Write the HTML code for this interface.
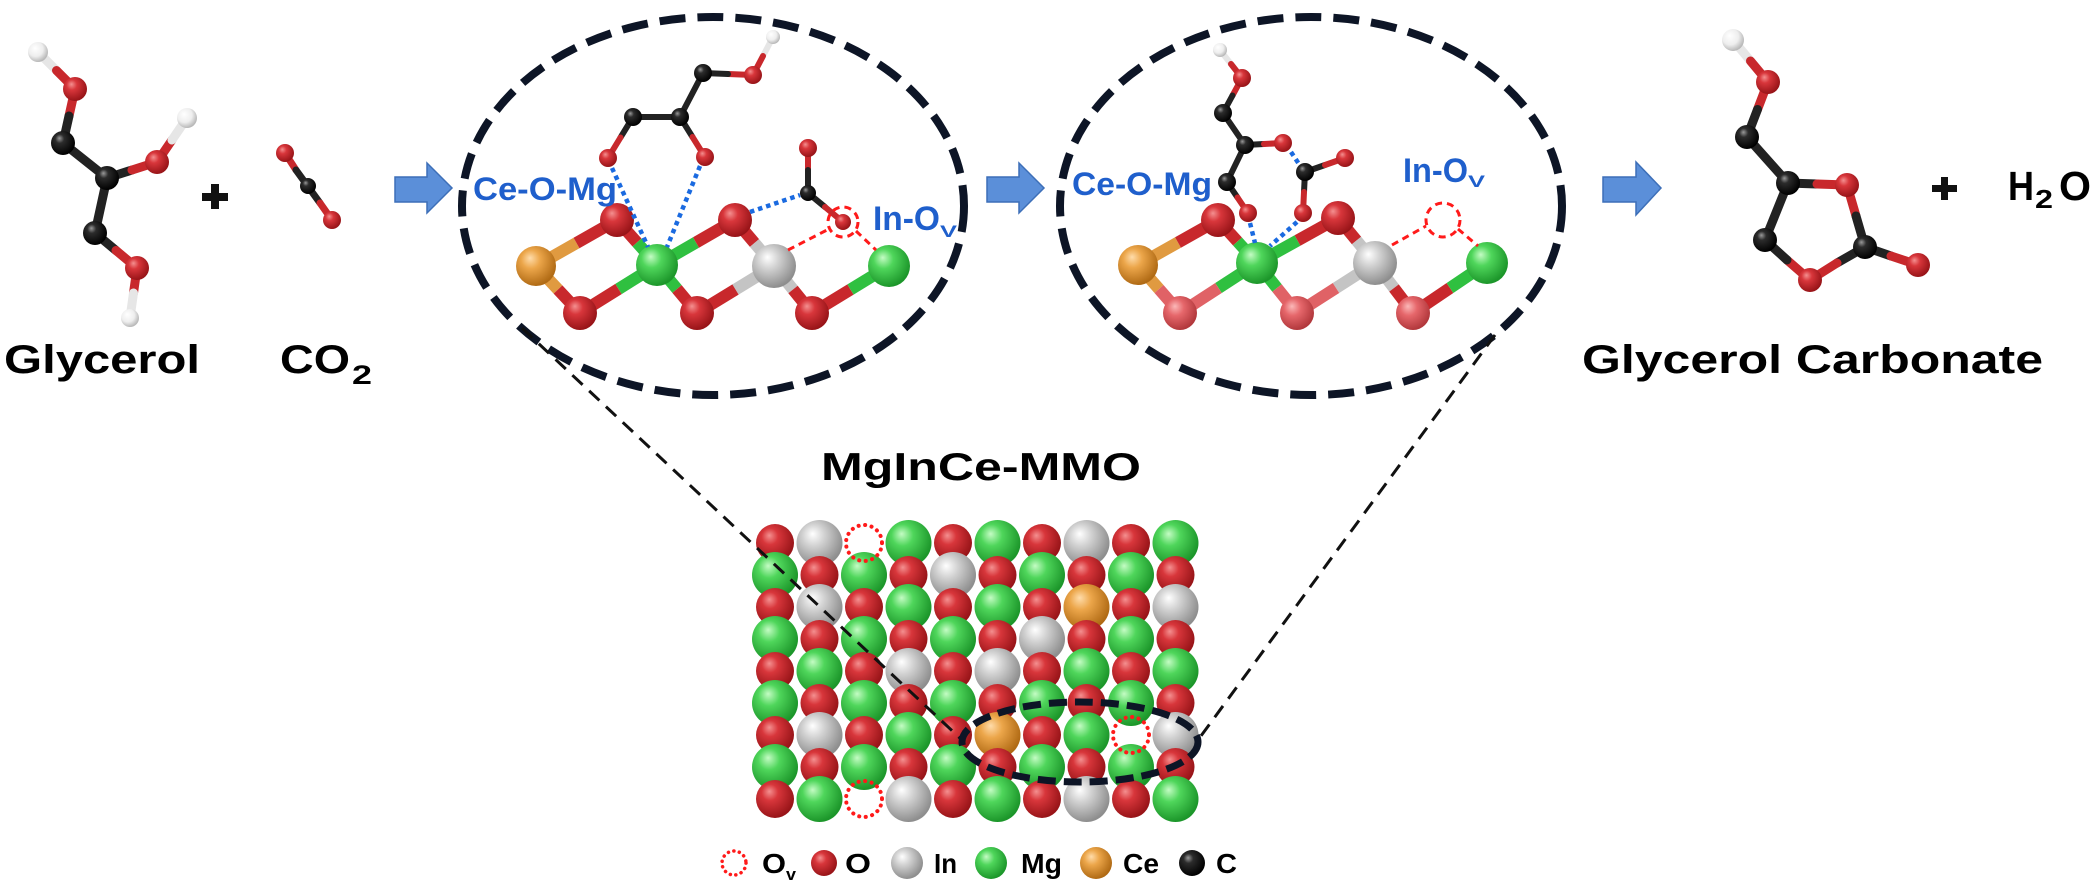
<!DOCTYPE html>
<html>
<head>
<meta charset="utf-8">
<style>
html,body{margin:0;padding:0;background:#fff;}
svg{display:block;}
text{font-family:"Liberation Sans",Arial,sans-serif;font-weight:bold;}
</style>
</head>
<body>
<svg width="2093" height="886" viewBox="0 0 2093 886" xmlns="http://www.w3.org/2000/svg">
<defs>
<radialGradient id="gO" cx="0.4" cy="0.38" r="0.62" fx="0.35" fy="0.3">
<stop offset="0" stop-color="#f49090"/><stop offset="0.35" stop-color="#d8363b"/><stop offset="1" stop-color="#981418"/></radialGradient>
<radialGradient id="gP" cx="0.4" cy="0.38" r="0.62" fx="0.35" fy="0.3">
<stop offset="0" stop-color="#fbb8b8"/><stop offset="0.4" stop-color="#e6676b"/><stop offset="1" stop-color="#b2383c"/></radialGradient>
<radialGradient id="gG" cx="0.4" cy="0.38" r="0.62" fx="0.35" fy="0.3">
<stop offset="0" stop-color="#c4fcc4"/><stop offset="0.38" stop-color="#4fd65b"/><stop offset="1" stop-color="#1c962a"/></radialGradient>
<radialGradient id="gS" cx="0.4" cy="0.38" r="0.62" fx="0.35" fy="0.3">
<stop offset="0" stop-color="#ffffff"/><stop offset="0.38" stop-color="#d2d2d2"/><stop offset="1" stop-color="#8e8e8e"/></radialGradient>
<radialGradient id="gY" cx="0.4" cy="0.38" r="0.62" fx="0.35" fy="0.3">
<stop offset="0" stop-color="#ffdcaa"/><stop offset="0.38" stop-color="#eca64a"/><stop offset="1" stop-color="#b06a14"/></radialGradient>
<radialGradient id="gC" cx="0.4" cy="0.38" r="0.62" fx="0.35" fy="0.3">
<stop offset="0" stop-color="#9a9a9a"/><stop offset="0.3" stop-color="#2c2c2c"/><stop offset="1" stop-color="#000"/></radialGradient>
<radialGradient id="gH" cx="0.4" cy="0.38" r="0.62" fx="0.35" fy="0.3">
<stop offset="0" stop-color="#ffffff"/><stop offset="0.6" stop-color="#eeeeee"/><stop offset="1" stop-color="#b8b8b8"/></radialGradient>
</defs>

<!-- ================= LEFT: Glycerol ================= -->
<g stroke-linecap="round" stroke-width="9">
<line x1="38" y1="52" x2="56.5" y2="70.5" stroke="#e6e6e6"/>
<line x1="56.5" y1="70.5" x2="75" y2="89" stroke="#c8282c"/>
<line x1="75" y1="89" x2="69" y2="116" stroke="#c8282c"/>
<line x1="69" y1="116" x2="63" y2="143" stroke="#222"/>
<line x1="63" y1="143" x2="107" y2="178" stroke="#222"/>
<line x1="107" y1="178" x2="132" y2="170" stroke="#222"/>
<line x1="132" y1="170" x2="157" y2="162" stroke="#c8282c"/>
<line x1="157" y1="162" x2="172" y2="140" stroke="#c8282c"/>
<line x1="172" y1="140" x2="187" y2="118" stroke="#e6e6e6"/>
<line x1="107" y1="178" x2="95" y2="233" stroke="#222"/>
<line x1="95" y1="233" x2="116" y2="250.5" stroke="#222"/>
<line x1="116" y1="250.5" x2="137" y2="268" stroke="#c8282c"/>
<line x1="137" y1="268" x2="133.5" y2="293" stroke="#c8282c"/>
<line x1="133.5" y1="293" x2="130" y2="318" stroke="#e6e6e6"/>
</g>
<circle cx="38" cy="52" r="10" fill="url(#gH)"/>
<circle cx="187" cy="118" r="10" fill="url(#gH)"/>
<circle cx="130" cy="318" r="9" fill="url(#gH)"/>
<circle cx="75" cy="89" r="12" fill="url(#gO)"/>
<circle cx="157" cy="162" r="12" fill="url(#gO)"/>
<circle cx="137" cy="268" r="12" fill="url(#gO)"/>
<circle cx="63" cy="143" r="12" fill="url(#gC)"/>
<circle cx="107" cy="178" r="12" fill="url(#gC)"/>
<circle cx="95" cy="233" r="12" fill="url(#gC)"/>

<!-- plus -->
<rect x="202" y="193" width="26" height="8" fill="#111"/>
<rect x="211" y="184" width="8" height="25" fill="#111"/>

<!-- CO2 -->
<g stroke-linecap="round" stroke-width="7">
<line x1="285" y1="153" x2="296" y2="170" stroke="#c8282c"/>
<line x1="296" y1="170" x2="320" y2="203" stroke="#222"/>
<line x1="320" y1="203" x2="332" y2="220" stroke="#c8282c"/>
</g>
<circle cx="285" cy="153" r="9" fill="url(#gO)"/>
<circle cx="308" cy="186" r="8" fill="url(#gC)"/>
<circle cx="332" cy="220" r="9" fill="url(#gO)"/>

<text x="4" y="373" font-size="40" textLength="196" lengthAdjust="spacingAndGlyphs" fill="#000">Glycerol</text>
<text x="280" y="373" font-size="40" textLength="70" lengthAdjust="spacingAndGlyphs" fill="#000">CO</text>
<text x="352" y="384" font-size="27" textLength="20" lengthAdjust="spacingAndGlyphs" fill="#000">2</text>

<!-- arrows -->
<g fill="#5b8fd9" stroke="#3d6fb8" stroke-width="1.5">
<polygon points="395,177 427,177 427,163 452,188 427,213 427,202 395,202"/>
<polygon points="987,177 1019,177 1019,163 1044,188 1019,213 1019,202 987,202"/>
<polygon points="1603,177 1636,177 1636,162 1661,188 1636,215 1636,202 1603,202"/>
</g>

<!-- ================= ELLIPSE 1 ================= -->
<g stroke-width="12" stroke-linecap="butt">
<line x1="536" y1="266" x2="576.5" y2="243" stroke="#e09a40"/>
<line x1="576.5" y1="243" x2="617" y2="220" stroke="#c8282c"/>
<line x1="536" y1="266" x2="558" y2="289.5" stroke="#e09a40"/>
<line x1="558" y1="289.5" x2="580" y2="313" stroke="#c8282c"/>
<line x1="617" y1="220" x2="637" y2="242.5" stroke="#c8282c"/>
<line x1="637" y1="242.5" x2="657" y2="265" stroke="#2fc040"/>
<line x1="657" y1="265" x2="618.5" y2="289" stroke="#2fc040"/>
<line x1="618.5" y1="289" x2="580" y2="313" stroke="#c8282c"/>
<line x1="657" y1="265" x2="696" y2="242.5" stroke="#2fc040"/>
<line x1="696" y1="242.5" x2="735" y2="220" stroke="#c8282c"/>
<line x1="657" y1="265" x2="677" y2="289" stroke="#2fc040"/>
<line x1="677" y1="289" x2="697" y2="313" stroke="#c8282c"/>
<line x1="735" y1="220" x2="754.5" y2="243" stroke="#c8282c"/>
<line x1="754.5" y1="243" x2="774" y2="266" stroke="#c4c4c4"/>
<line x1="774" y1="266" x2="735.5" y2="289.5" stroke="#c4c4c4"/>
<line x1="735.5" y1="289.5" x2="697" y2="313" stroke="#c8282c"/>
<line x1="774" y1="266" x2="793" y2="289.5" stroke="#c4c4c4"/>
<line x1="793" y1="289.5" x2="812" y2="313" stroke="#c8282c"/>
<line x1="812" y1="313" x2="850.5" y2="289.5" stroke="#c8282c"/>
<line x1="850.5" y1="289.5" x2="889" y2="266" stroke="#2fc040"/>
</g>
<circle cx="580" cy="313" r="17" fill="url(#gO)"/>
<circle cx="697" cy="313" r="17" fill="url(#gO)"/>
<circle cx="812" cy="313" r="17" fill="url(#gO)"/>
<circle cx="536" cy="266" r="20" fill="url(#gY)"/>
<circle cx="657" cy="265" r="21" fill="url(#gG)"/>
<circle cx="774" cy="266" r="22" fill="url(#gS)"/>
<circle cx="889" cy="266" r="21" fill="url(#gG)"/>
<circle cx="617" cy="220" r="17" fill="url(#gO)"/>
<circle cx="735" cy="220" r="17" fill="url(#gO)"/>

<g stroke-linecap="round" stroke-width="6">
<line x1="773" y1="37" x2="763" y2="56" stroke="#e6e6e6"/>
<line x1="763" y1="56" x2="753" y2="75" stroke="#c8282c"/>
<line x1="753" y1="75" x2="728" y2="74" stroke="#c8282c"/>
<line x1="728" y1="74" x2="703" y2="73" stroke="#222"/>
<line x1="703" y1="73" x2="680" y2="117" stroke="#222"/>
<line x1="680" y1="117" x2="633" y2="117" stroke="#222"/>
<line x1="633" y1="117" x2="620.5" y2="137.5" stroke="#222"/>
<line x1="620.5" y1="137.5" x2="608" y2="158" stroke="#c8282c"/>
<line x1="680" y1="117" x2="692.5" y2="137" stroke="#222"/>
<line x1="692.5" y1="137" x2="705" y2="157" stroke="#c8282c"/>
<line x1="808" y1="148" x2="808" y2="170" stroke="#c8282c"/>
<line x1="808" y1="170" x2="808" y2="193" stroke="#222"/>
<line x1="808" y1="193" x2="825" y2="207" stroke="#222"/>
<line x1="825" y1="207" x2="843" y2="222" stroke="#c8282c"/>
</g>
<circle cx="773" cy="37" r="7" fill="url(#gH)"/>
<circle cx="753" cy="75" r="9" fill="url(#gO)"/>
<circle cx="703" cy="73" r="9" fill="url(#gC)"/>
<circle cx="680" cy="117" r="9" fill="url(#gC)"/>
<circle cx="633" cy="117" r="9" fill="url(#gC)"/>
<circle cx="608" cy="158" r="9" fill="url(#gO)"/>
<circle cx="705" cy="157" r="9" fill="url(#gO)"/>
<circle cx="808" cy="148" r="9" fill="url(#gO)"/>
<circle cx="808" cy="193" r="8" fill="url(#gC)"/>
<circle cx="843" cy="222" r="8" fill="url(#gO)"/>

<g stroke="#1a6ae0" stroke-width="4.5" stroke-dasharray="4.5 4" fill="none">
<line x1="612" y1="168" x2="648" y2="247"/>
<line x1="700" y1="166" x2="667" y2="247"/>
<line x1="750" y1="212" x2="800" y2="195"/>
</g>
<g stroke="#ff1a1a" stroke-width="3" stroke-dasharray="7 5" fill="none">
<circle cx="843" cy="222" r="15"/>
<line x1="788" y1="250" x2="829" y2="229"/>
<line x1="856" y1="231" x2="876" y2="250"/>
</g>
<text x="473" y="200" font-size="32" textLength="144" lengthAdjust="spacingAndGlyphs" fill="#1f5fcc">Ce-O-Mg</text>
<text x="873" y="230" font-size="34" textLength="67" lengthAdjust="spacingAndGlyphs" fill="#1f5fcc">In-O</text>
<text x="940" y="237" font-size="17" textLength="17" lengthAdjust="spacingAndGlyphs" fill="#1f5fcc">V</text>

<!-- ================= ELLIPSE 2 ================= -->
<g stroke-width="12" stroke-linecap="butt">
<line x1="1138" y1="265" x2="1178" y2="242.5" stroke="#e09a40"/>
<line x1="1178" y1="242.5" x2="1218" y2="220" stroke="#c8282c"/>
<line x1="1138" y1="265" x2="1159" y2="289" stroke="#e09a40"/>
<line x1="1159" y1="289" x2="1180" y2="313" stroke="#e06266"/>
<line x1="1218" y1="220" x2="1237.5" y2="241.5" stroke="#c8282c"/>
<line x1="1237.5" y1="241.5" x2="1257" y2="263" stroke="#2fc040"/>
<line x1="1257" y1="263" x2="1218.5" y2="288" stroke="#2fc040"/>
<line x1="1218.5" y1="288" x2="1180" y2="313" stroke="#e06266"/>
<line x1="1257" y1="263" x2="1297.5" y2="240.5" stroke="#2fc040"/>
<line x1="1297.5" y1="240.5" x2="1338" y2="218" stroke="#c8282c"/>
<line x1="1257" y1="263" x2="1277" y2="288" stroke="#2fc040"/>
<line x1="1277" y1="288" x2="1297" y2="313" stroke="#e06266"/>
<line x1="1338" y1="218" x2="1356.5" y2="240.5" stroke="#c8282c"/>
<line x1="1356.5" y1="240.5" x2="1375" y2="263" stroke="#c4c4c4"/>
<line x1="1375" y1="263" x2="1336" y2="288" stroke="#c4c4c4"/>
<line x1="1336" y1="288" x2="1297" y2="313" stroke="#e06266"/>
<line x1="1375" y1="263" x2="1394" y2="288" stroke="#c4c4c4"/>
<line x1="1394" y1="288" x2="1413" y2="313" stroke="#c8282c"/>
<line x1="1413" y1="313" x2="1450" y2="288" stroke="#c8282c"/>
<line x1="1450" y1="288" x2="1487" y2="263" stroke="#2fc040"/>
</g>
<circle cx="1180" cy="313" r="17" fill="url(#gP)"/>
<circle cx="1297" cy="313" r="17" fill="url(#gP)"/>
<circle cx="1413" cy="313" r="17" fill="url(#gP)"/>
<circle cx="1138" cy="265" r="20" fill="url(#gY)"/>
<circle cx="1257" cy="263" r="21" fill="url(#gG)"/>
<circle cx="1375" cy="263" r="22" fill="url(#gS)"/>
<circle cx="1487" cy="263" r="21" fill="url(#gG)"/>
<circle cx="1218" cy="220" r="17" fill="url(#gO)"/>
<circle cx="1338" cy="218" r="17" fill="url(#gO)"/>

<g stroke-linecap="round" stroke-width="6">
<line x1="1220" y1="50" x2="1231" y2="64" stroke="#e6e6e6"/>
<line x1="1231" y1="64" x2="1242" y2="78" stroke="#c8282c"/>
<line x1="1242" y1="78" x2="1232.5" y2="95.5" stroke="#c8282c"/>
<line x1="1232.5" y1="95.5" x2="1223" y2="113" stroke="#222"/>
<line x1="1223" y1="113" x2="1245" y2="145" stroke="#222"/>
<line x1="1245" y1="145" x2="1264" y2="144" stroke="#222"/>
<line x1="1264" y1="144" x2="1283" y2="143" stroke="#c8282c"/>
<line x1="1245" y1="145" x2="1227" y2="182" stroke="#222"/>
<line x1="1227" y1="182" x2="1237.5" y2="197.5" stroke="#222"/>
<line x1="1237.5" y1="197.5" x2="1248" y2="213" stroke="#c8282c"/>
<line x1="1305" y1="172" x2="1325" y2="165" stroke="#222"/>
<line x1="1325" y1="165" x2="1345" y2="158" stroke="#c8282c"/>
<line x1="1305" y1="172" x2="1304" y2="192" stroke="#222"/>
<line x1="1304" y1="192" x2="1303" y2="213" stroke="#c8282c"/>
</g>
<circle cx="1220" cy="50" r="7" fill="url(#gH)"/>
<circle cx="1242" cy="78" r="9" fill="url(#gO)"/>
<circle cx="1223" cy="113" r="9" fill="url(#gC)"/>
<circle cx="1245" cy="145" r="9" fill="url(#gC)"/>
<circle cx="1283" cy="143" r="9" fill="url(#gO)"/>
<circle cx="1227" cy="182" r="9" fill="url(#gC)"/>
<circle cx="1248" cy="213" r="9" fill="url(#gO)"/>
<circle cx="1305" cy="172" r="9" fill="url(#gC)"/>
<circle cx="1345" cy="158" r="9" fill="url(#gO)"/>
<circle cx="1303" cy="213" r="9" fill="url(#gO)"/>

<g stroke="#1a6ae0" stroke-width="4.5" stroke-dasharray="4.5 4" fill="none">
<line x1="1291" y1="152" x2="1299" y2="164"/>
<line x1="1250" y1="223" x2="1255" y2="243"/>
<line x1="1297" y1="222" x2="1270" y2="246"/>
</g>
<g stroke="#ff1a1a" stroke-width="3" stroke-dasharray="7 5" fill="none">
<circle cx="1443" cy="220" r="17"/>
<line x1="1392" y1="245" x2="1426" y2="226"/>
<line x1="1458" y1="229" x2="1478" y2="246"/>
</g>
<text x="1072" y="195" font-size="32" textLength="140" lengthAdjust="spacingAndGlyphs" fill="#1f5fcc">Ce-O-Mg</text>
<text x="1403" y="182" font-size="34" textLength="65" lengthAdjust="spacingAndGlyphs" fill="#1f5fcc">In-O</text>
<text x="1468" y="187" font-size="17" textLength="17" lengthAdjust="spacingAndGlyphs" fill="#1f5fcc">V</text>

<!-- big dashed ellipses -->
<g fill="none" stroke="#0d1526" stroke-width="8" stroke-dasharray="26 12">
<ellipse cx="713" cy="206" rx="251" ry="189"/>
<ellipse cx="1311" cy="206" rx="251" ry="189"/>
</g>

<!-- ================= RIGHT: Glycerol carbonate ================= -->
<g stroke-linecap="round" stroke-width="9">
<line x1="1733" y1="40" x2="1750.5" y2="61" stroke="#e6e6e6"/>
<line x1="1750.5" y1="61" x2="1768" y2="82" stroke="#c8282c"/>
<line x1="1768" y1="82" x2="1757.5" y2="109.5" stroke="#c8282c"/>
<line x1="1757.5" y1="109.5" x2="1747" y2="137" stroke="#222"/>
<line x1="1747" y1="137" x2="1788" y2="183" stroke="#222"/>
<line x1="1788" y1="183" x2="1817" y2="184" stroke="#222"/>
<line x1="1817" y1="184" x2="1847" y2="185" stroke="#c8282c"/>
<line x1="1847" y1="185" x2="1856" y2="216" stroke="#c8282c"/>
<line x1="1856" y1="216" x2="1865" y2="247" stroke="#222"/>
<line x1="1865" y1="247" x2="1891" y2="256" stroke="#222"/>
<line x1="1891" y1="256" x2="1918" y2="265" stroke="#c8282c"/>
<line x1="1865" y1="247" x2="1837" y2="263" stroke="#222"/>
<line x1="1837" y1="263" x2="1810" y2="280" stroke="#c8282c"/>
<line x1="1810" y1="280" x2="1787" y2="260" stroke="#c8282c"/>
<line x1="1787" y1="260" x2="1765" y2="240" stroke="#222"/>
<line x1="1765" y1="240" x2="1788" y2="183" stroke="#222"/>
</g>
<circle cx="1733" cy="40" r="11" fill="url(#gH)"/>
<circle cx="1768" cy="82" r="12" fill="url(#gO)"/>
<circle cx="1747" cy="137" r="12" fill="url(#gC)"/>
<circle cx="1788" cy="183" r="12" fill="url(#gC)"/>
<circle cx="1847" cy="185" r="12" fill="url(#gO)"/>
<circle cx="1865" cy="247" r="12" fill="url(#gC)"/>
<circle cx="1918" cy="265" r="12" fill="url(#gO)"/>
<circle cx="1810" cy="280" r="12" fill="url(#gO)"/>
<circle cx="1765" cy="240" r="12" fill="url(#gC)"/>

<rect x="1932" y="185" width="25" height="7" fill="#111"/>
<rect x="1941" y="177" width="7" height="23" fill="#111"/>
<text x="2008" y="200" font-size="41" textLength="26" lengthAdjust="spacingAndGlyphs" fill="#000">H</text>
<text x="2035" y="208" font-size="26" textLength="18" lengthAdjust="spacingAndGlyphs" fill="#000">2</text>
<text x="2059" y="200" font-size="41" textLength="32" lengthAdjust="spacingAndGlyphs" fill="#000">O</text>
<text x="1582" y="373" font-size="40" textLength="461" lengthAdjust="spacingAndGlyphs" fill="#000">Glycerol Carbonate</text>

<!-- ================= MgInCe-MMO ================= -->
<text x="821" y="480" font-size="39" textLength="320" lengthAdjust="spacingAndGlyphs" fill="#000">MgInCe-MMO</text>

<!-- lattice -->
<g>
<circle cx="775" cy="543" r="19" fill="url(#gO)"/>
<circle cx="819.5" cy="543" r="23" fill="url(#gS)"/>
<circle cx="908.5" cy="543" r="23" fill="url(#gG)"/>
<circle cx="953" cy="543" r="19" fill="url(#gO)"/>
<circle cx="997.5" cy="543" r="23" fill="url(#gG)"/>
<circle cx="1042" cy="543" r="19" fill="url(#gO)"/>
<circle cx="1086.5" cy="543" r="23" fill="url(#gS)"/>
<circle cx="1131" cy="543" r="19" fill="url(#gO)"/>
<circle cx="1175.5" cy="543" r="23" fill="url(#gG)"/>

<circle cx="775" cy="575" r="23" fill="url(#gG)"/>
<circle cx="819.5" cy="575" r="19" fill="url(#gO)"/>
<circle cx="864" cy="575" r="23" fill="url(#gG)"/>
<circle cx="908.5" cy="575" r="19" fill="url(#gO)"/>
<circle cx="953" cy="575" r="23" fill="url(#gS)"/>
<circle cx="997.5" cy="575" r="19" fill="url(#gO)"/>
<circle cx="1042" cy="575" r="23" fill="url(#gG)"/>
<circle cx="1086.5" cy="575" r="19" fill="url(#gO)"/>
<circle cx="1131" cy="575" r="23" fill="url(#gG)"/>
<circle cx="1175.5" cy="575" r="19" fill="url(#gO)"/>

<circle cx="775" cy="607" r="19" fill="url(#gO)"/>
<circle cx="819.5" cy="607" r="23" fill="url(#gS)"/>
<circle cx="864" cy="607" r="19" fill="url(#gO)"/>
<circle cx="908.5" cy="607" r="23" fill="url(#gG)"/>
<circle cx="953" cy="607" r="19" fill="url(#gO)"/>
<circle cx="997.5" cy="607" r="23" fill="url(#gG)"/>
<circle cx="1042" cy="607" r="19" fill="url(#gO)"/>
<circle cx="1086.5" cy="607" r="23" fill="url(#gY)"/>
<circle cx="1131" cy="607" r="19" fill="url(#gO)"/>
<circle cx="1175.5" cy="607" r="23" fill="url(#gS)"/>

<circle cx="775" cy="639" r="23" fill="url(#gG)"/>
<circle cx="819.5" cy="639" r="19" fill="url(#gO)"/>
<circle cx="864" cy="639" r="23" fill="url(#gG)"/>
<circle cx="908.5" cy="639" r="19" fill="url(#gO)"/>
<circle cx="953" cy="639" r="23" fill="url(#gG)"/>
<circle cx="997.5" cy="639" r="19" fill="url(#gO)"/>
<circle cx="1042" cy="639" r="23" fill="url(#gS)"/>
<circle cx="1086.5" cy="639" r="19" fill="url(#gO)"/>
<circle cx="1131" cy="639" r="23" fill="url(#gG)"/>
<circle cx="1175.5" cy="639" r="19" fill="url(#gO)"/>

<circle cx="775" cy="671" r="19" fill="url(#gO)"/>
<circle cx="819.5" cy="671" r="23" fill="url(#gG)"/>
<circle cx="864" cy="671" r="19" fill="url(#gO)"/>
<circle cx="908.5" cy="671" r="23" fill="url(#gS)"/>
<circle cx="953" cy="671" r="19" fill="url(#gO)"/>
<circle cx="997.5" cy="671" r="23" fill="url(#gS)"/>
<circle cx="1042" cy="671" r="19" fill="url(#gO)"/>
<circle cx="1086.5" cy="671" r="23" fill="url(#gG)"/>
<circle cx="1131" cy="671" r="19" fill="url(#gO)"/>
<circle cx="1175.5" cy="671" r="23" fill="url(#gG)"/>

<circle cx="775" cy="703" r="23" fill="url(#gG)"/>
<circle cx="819.5" cy="703" r="19" fill="url(#gO)"/>
<circle cx="864" cy="703" r="23" fill="url(#gG)"/>
<circle cx="908.5" cy="703" r="19" fill="url(#gO)"/>
<circle cx="953" cy="703" r="23" fill="url(#gG)"/>
<circle cx="997.5" cy="703" r="19" fill="url(#gO)"/>
<circle cx="1042" cy="703" r="23" fill="url(#gG)"/>
<circle cx="1086.5" cy="703" r="19" fill="url(#gO)"/>
<circle cx="1131" cy="703" r="23" fill="url(#gG)"/>
<circle cx="1175.5" cy="703" r="19" fill="url(#gO)"/>

<circle cx="775" cy="735" r="19" fill="url(#gO)"/>
<circle cx="819.5" cy="735" r="23" fill="url(#gS)"/>
<circle cx="864" cy="735" r="19" fill="url(#gO)"/>
<circle cx="908.5" cy="735" r="23" fill="url(#gG)"/>
<circle cx="953" cy="735" r="19" fill="url(#gO)"/>
<circle cx="997.5" cy="735" r="23" fill="url(#gY)"/>
<circle cx="1042" cy="735" r="19" fill="url(#gO)"/>
<circle cx="1086.5" cy="735" r="23" fill="url(#gG)"/>
<circle cx="1175.5" cy="735" r="23" fill="url(#gS)"/>

<circle cx="775" cy="767" r="23" fill="url(#gG)"/>
<circle cx="819.5" cy="767" r="19" fill="url(#gO)"/>
<circle cx="864" cy="767" r="23" fill="url(#gG)"/>
<circle cx="908.5" cy="767" r="19" fill="url(#gO)"/>
<circle cx="953" cy="767" r="23" fill="url(#gG)"/>
<circle cx="997.5" cy="767" r="19" fill="url(#gO)"/>
<circle cx="1042" cy="767" r="23" fill="url(#gG)"/>
<circle cx="1086.5" cy="767" r="19" fill="url(#gO)"/>
<circle cx="1131" cy="767" r="23" fill="url(#gG)"/>
<circle cx="1175.5" cy="767" r="19" fill="url(#gO)"/>

<circle cx="775" cy="799" r="19" fill="url(#gO)"/>
<circle cx="819.5" cy="799" r="23" fill="url(#gG)"/>
<circle cx="908.5" cy="799" r="23" fill="url(#gS)"/>
<circle cx="953" cy="799" r="19" fill="url(#gO)"/>
<circle cx="997.5" cy="799" r="23" fill="url(#gG)"/>
<circle cx="1042" cy="799" r="19" fill="url(#gO)"/>
<circle cx="1086.5" cy="799" r="23" fill="url(#gS)"/>
<circle cx="1131" cy="799" r="19" fill="url(#gO)"/>
<circle cx="1175.5" cy="799" r="23" fill="url(#gG)"/>
</g>
<g fill="none" stroke="#ff1a1a" stroke-width="4" stroke-dasharray="0.1 6.5" stroke-linecap="round">
<circle cx="864" cy="543" r="18"/>
<circle cx="1131" cy="735" r="18"/>
<circle cx="864" cy="799" r="18"/>
</g>

<!-- connecting dashed lines -->
<g stroke="#111" stroke-width="3" stroke-dasharray="14 9" fill="none">
<line x1="522" y1="328" x2="962" y2="740"/>
<line x1="1495" y1="335" x2="1198" y2="740"/>
</g>
<ellipse cx="1080" cy="742" rx="118" ry="40" fill="none" stroke="#0d1526" stroke-width="7" stroke-dasharray="18 8"/>

<!-- legend -->
<circle cx="734" cy="863" r="12" fill="none" stroke="#ff1a1a" stroke-width="3.5" stroke-dasharray="0.1 5.5" stroke-linecap="round"/>
<text x="762" y="873" font-size="28" textLength="24" lengthAdjust="spacingAndGlyphs" fill="#000">O</text>
<text x="786" y="880" font-size="17" textLength="10" lengthAdjust="spacingAndGlyphs" fill="#000">v</text>
<circle cx="824" cy="863" r="13" fill="url(#gO)"/>
<text x="845" y="873" font-size="28" textLength="26" lengthAdjust="spacingAndGlyphs" fill="#000">O</text>
<circle cx="907" cy="863" r="16" fill="url(#gS)"/>
<text x="934" y="873" font-size="28" textLength="23" lengthAdjust="spacingAndGlyphs" fill="#000">In</text>
<circle cx="991" cy="863" r="16" fill="url(#gG)"/>
<text x="1021" y="873" font-size="28" textLength="41" lengthAdjust="spacingAndGlyphs" fill="#000">Mg</text>
<circle cx="1096" cy="863" r="16" fill="url(#gY)"/>
<text x="1123" y="873" font-size="28" textLength="36" lengthAdjust="spacingAndGlyphs" fill="#000">Ce</text>
<circle cx="1192" cy="863" r="13" fill="url(#gC)"/>
<text x="1216" y="873" font-size="28" textLength="21" lengthAdjust="spacingAndGlyphs" fill="#000">C</text>
</svg>
</body>
</html>
